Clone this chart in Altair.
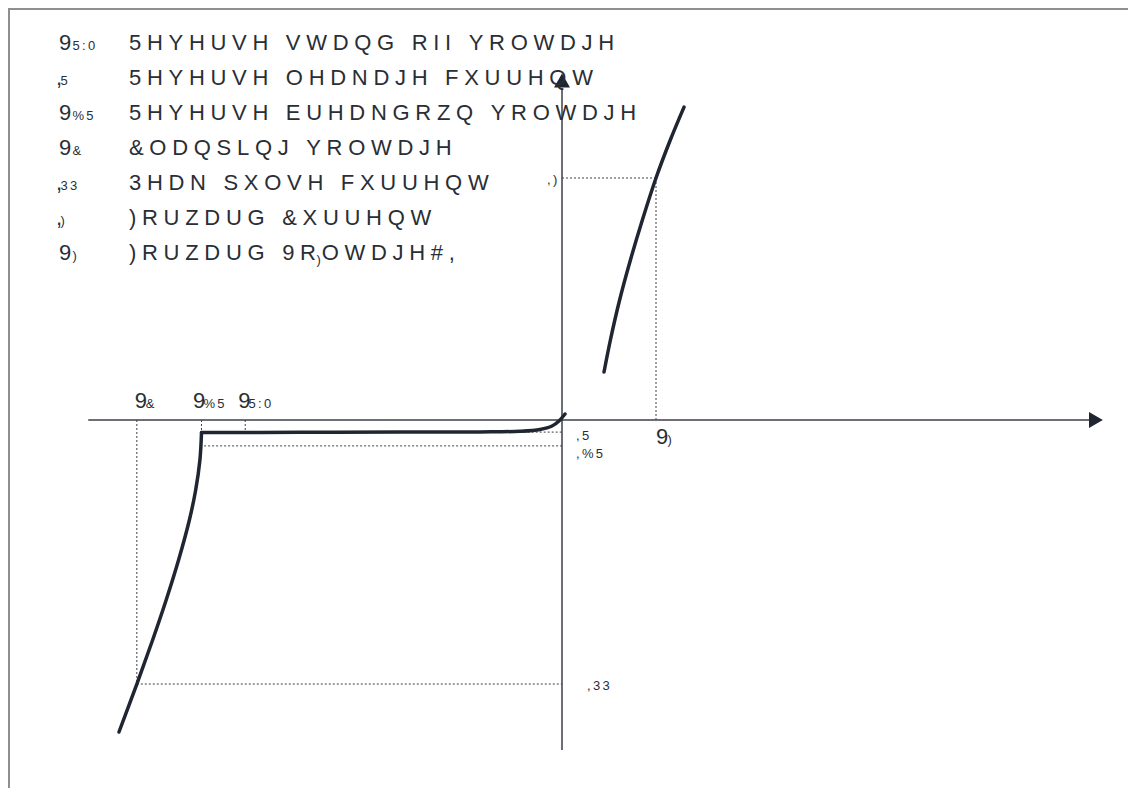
import altair as alt
import pandas as pd

# ---------------- data (diagram units: voltage on x, current on y) ----------------
V_C, V_BR, V_RWM, V_F = -4.523, -3.835, -3.37, 1.0
I_F, I_R, I_BR, I_PP = 10.0, -0.5, -1.07, -10.91

# forward branch
fwd_v = [0.447, 0.515, 0.613, 0.728, 0.855, 1.0, 1.152, 1.298]
fwd_i = [1.983, 3.306, 4.959, 6.612, 8.264, 10.0, 11.57, 12.93]

# reverse branch, breakdown part
brk_v = [-4.713, -4.523, -4.355, -4.211, -4.079, -3.964, -3.897, -3.852, -3.835]
brk_i = [-12.893, -10.91, -9.09, -7.438, -5.785, -4.132, -2.893, -1.653, -0.517]

# reverse branch, leakage part and knee at the origin
lk_v = [-3.835, -2.787, -1.723, -0.872, -0.447, -0.234, -0.106, -0.032, 0.032]
lk_i = [-0.517, -0.508, -0.5, -0.492, -0.467, -0.393, -0.248, -0.041, 0.248]

legend_symbols = ["9", ",", "9", "9", ",", ",", "9"]
legend_subs = ["5:0", "5", "%5", "&", "33", ")", ")"]
legend_texts = ["5HYHUVH VWDQG RII YROWDJH", "5HYHUVH OHDNDJH FXUUHQW",
                "5HYHUVH EUHDNGRZQ YROWDJH", "&ODQSLQJ YROWDJH",
                "3HDN SXOVH FXUUHQW", ")RUZDUG &XUUHQW"]
last_text_parts = [")RUZDUG 9R", ")", "OWDJH#,"]

lab_VC = ("9", "&")
lab_VBR = ("9", "%5")
lab_VRWM = ("9", "5:0")
lab_VF = ("9", ")")
lab_IR = ",5"
lab_IBR = ",%5"
lab_IF = ",)"
lab_IPP = ",33"

# ---------------- layout ----------------
W, H = 1120, 780
PX_X, PX_Y = 94.0, 24.2      # pixels per unit
OX, OY = 554, 412            # origin position inside the view
FONT = "Liberation Sans"
TXT = "#2a2e35"
CURVE = "#1f2631"
AXC = "#3b4048"
DOT = "#3d4148"
BIG, SMALL = 22, 13
TRACK = {BIG: 5.7, SMALL: 2.3}   # letter spacing in px

xs = alt.Scale(domain=[-OX / PX_X, (W - OX) / PX_X], nice=False, zero=False)
ys = alt.Scale(domain=[-(H - OY) / PX_Y, OY / PX_Y], nice=False, zero=False)


def px_of(v):
    return OX + v * PX_X


def py_of(i):
    return OY - i * PX_Y


def X(f):
    return alt.X(f, type="quantitative", scale=xs, axis=None)


def Y(f):
    return alt.Y(f, type="quantitative", scale=ys, axis=None)


# Arial / Liberation Sans advance widths (per em)
ADV = {" ": .278, "#": .556, "%": .889, "&": .667, ")": .333, ",": .278, ":": .278,
       "A": .667, "B": .667, "C": .722, "D": .722, "E": .667, "F": .611, "G": .778,
       "H": .722, "I": .278, "J": .5, "K": .667, "L": .556, "M": .833, "N": .722,
       "O": .778, "P": .667, "Q": .778, "R": .722, "S": .667, "T": .611, "U": .722,
       "V": .667, "W": .944, "X": .667, "Y": .667, "Z": .611}
for dch in "0123456789":
    ADV[dch] = .556

glyphs = {BIG: [], SMALL: []}


def run(text, x0, y0, size):
    """lay out a tracked text run; returns x after the last glyph advance (no tracking)"""
    x = x0
    end = x0
    for ch in text:
        if ch != " ":
            glyphs[size].append({"c": ch, "x": x, "y": y0})
        end = x + ADV.get(ch, .6) * size
        x = end + TRACK[size]
    return end


layers = []

# frame (top & left edges)
frame = pd.DataFrame({"k": [0]})
layers.append(alt.Chart(frame).mark_rule(color="#8f8f8f", strokeWidth=2).encode(
    x=alt.value(0), x2=alt.value(W), y=alt.value(1)))
layers.append(alt.Chart(frame).mark_rule(color="#8f8f8f", strokeWidth=2).encode(
    x=alt.value(1), y=alt.value(0), y2=alt.value(H)))

# axes with arrow heads
axes = pd.DataFrame({"v": [-5.04, 0.0], "i": [0.0, -13.64],
                     "v2": [5.62, 0.0], "i2": [0.0, 13.72]})
layers.append(alt.Chart(axes).mark_rule(color=AXC, strokeWidth=1.5).encode(
    x=X("v"), y=Y("i"), x2="v2", y2="i2"))
arr_r = pd.DataFrame({"v": [5.68], "i": [0.0]})
arr_u = pd.DataFrame({"v": [0.0], "i": [14.03]})
layers.append(alt.Chart(arr_r).mark_point(shape="triangle-right", filled=True, size=256,
                                          color=CURVE, opacity=1, strokeWidth=0).encode(
    x=X("v"), y=Y("i")))
layers.append(alt.Chart(arr_u).mark_point(shape="triangle-up", filled=True, size=256,
                                          color=CURVE, opacity=1, strokeWidth=0).encode(
    x=X("v"), y=Y("i")))

# dotted guide lines
segs = pd.DataFrame([
    {"v": V_C, "i": 0.0, "v2": V_C, "i2": I_PP},
    {"v": V_C, "i": I_PP, "v2": 0.0, "i2": I_PP},
    {"v": V_BR, "i": 0.0, "v2": V_BR, "i2": I_R},
    {"v": V_RWM, "i": 0.0, "v2": V_RWM, "i2": I_R},
    {"v": -0.45, "i": I_R, "v2": 0.0, "i2": I_R},
    {"v": -3.85, "i": I_BR, "v2": 0.0, "i2": I_BR},
    {"v": 0.0, "i": I_F, "v2": V_F, "i2": I_F},
    {"v": V_F, "i": I_F, "v2": V_F, "i2": 0.0},
])
layers.append(alt.Chart(segs).mark_rule(color=DOT, strokeWidth=1, strokeDash=[2, 2]).encode(
    x=X("v"), y=Y("i"), x2="v2", y2="i2"))

# characteristic curve
for vv, ii in ((fwd_v, fwd_i), (brk_v, brk_i), (lk_v, lk_i)):
    d = pd.DataFrame({"v": vv, "i": ii, "o": list(range(len(vv)))})
    layers.append(alt.Chart(d).mark_line(color=CURVE, strokeWidth=3.5, strokeCap="round",
                                         strokeJoin="round", interpolate="catmull-rom").encode(
        x=X("v"), y=Y("i"), order="o:Q"))

# ---- labels at the axes (positions derived from the key values) ----
top_base = py_of(0) - 12
for (main, sub), v, dxm, dxs in ((lab_VC, V_C, -2, 9), (lab_VBR, V_BR, -8.5, 2),
                                 (lab_VRWM, V_RWM, -7, 3.3)):
    run(main, px_of(v) + dxm, top_base, BIG)
    run(sub, px_of(v) + dxs, top_base, SMALL)
run(lab_VF[0], px_of(V_F), py_of(0) + 24, BIG)
run(lab_VF[1], px_of(V_F) + 11.5, py_of(0) + 24, SMALL)
run(lab_IR, px_of(0) + 14, py_of(I_R) + 8, SMALL)
run(lab_IBR, px_of(0) + 14, py_of(I_BR) + 12, SMALL)
run(lab_IF, px_of(0) - 15, py_of(I_F) + 6, SMALL)
run(lab_IPP, px_of(0) + 25, py_of(I_PP) + 6, SMALL)

# ---- legend block ----
ROW0, ROWSTEP = 42, 35
for k in range(7):
    by = ROW0 + ROWSTEP * k
    sym = legend_symbols[k]
    if sym == "9":
        run(sym, 51, by, BIG)
        run(legend_subs[k], 64.5, by, SMALL)
    else:
        run(sym, 48, by, BIG)
        run(legend_subs[k], 52.5, by, SMALL)
    if k < 6:
        run(legend_texts[k], 121, by, BIG)
    else:
        end = run(last_text_parts[0], 121, by, BIG)
        run(last_text_parts[1], end + 0.5, by + 4, SMALL)
        run(last_text_parts[2], end + TRACK[BIG], by, BIG)

for size in (BIG, SMALL):
    d = pd.DataFrame(glyphs[size])
    layers.append(alt.Chart(d).mark_text(align="left", baseline="alphabetic", font=FONT,
                                         fontSize=size, color=TXT).encode(
        x=alt.X("x:Q", scale=None, axis=None),
        y=alt.Y("y:Q", scale=None, axis=None),
        text="c:N"))

chart = alt.layer(*layers).properties(
    width=W, height=H, padding=0, autosize="none", background="white"
).configure_view(stroke="transparent")

chart.save("out.html", embed_options={"renderer": "svg", "actions": False})
